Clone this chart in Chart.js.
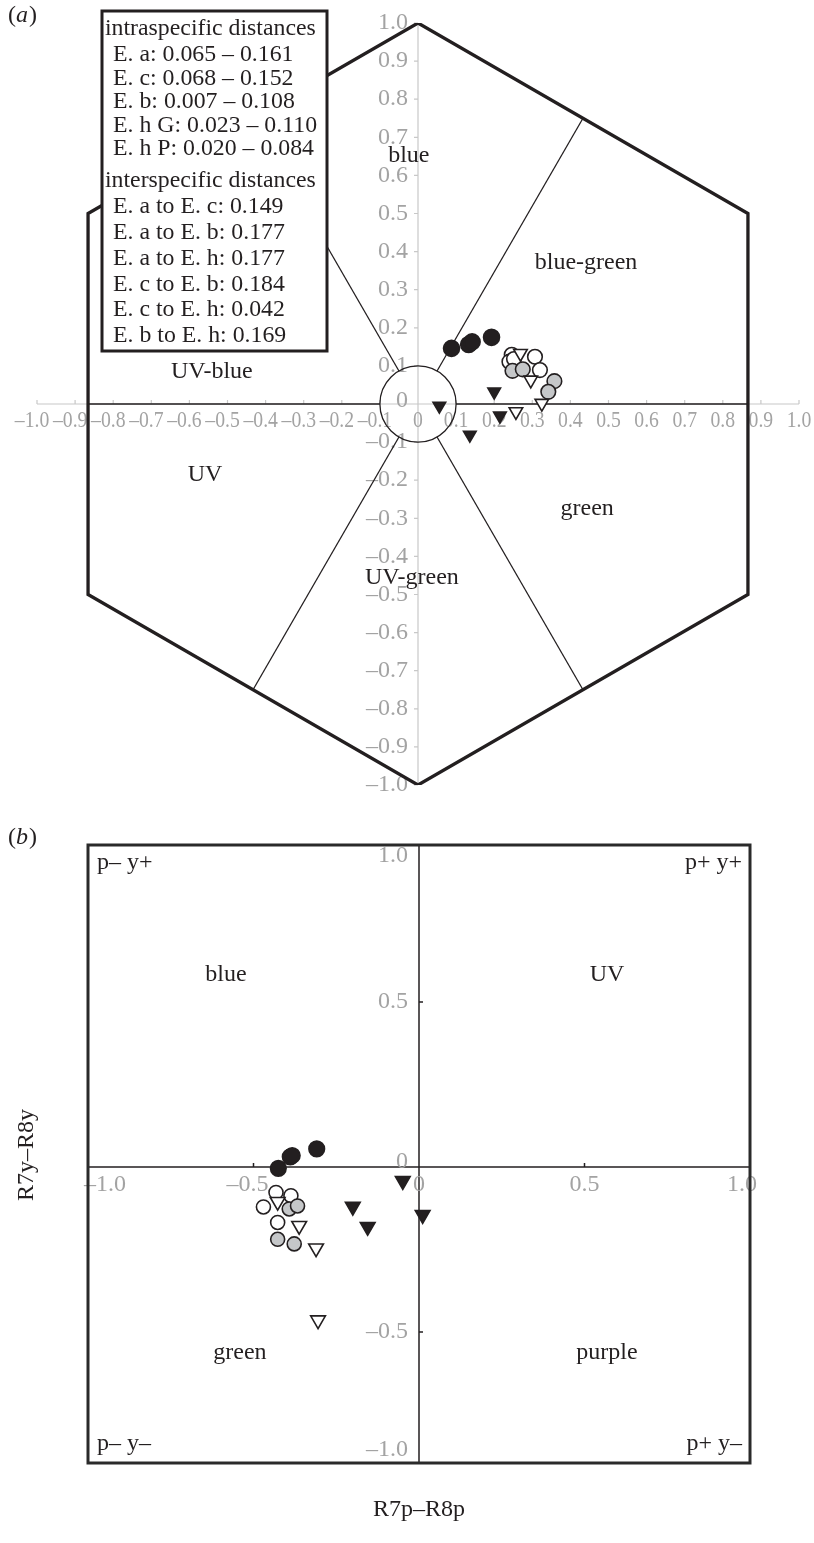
<!DOCTYPE html>
<html>
<head>
<meta charset="utf-8">
<script src="https://cdn.jsdelivr.net/npm/chart.js@4.4.0/dist/chart.umd.min.js"></script>
<style>
  html, body { margin: 0; padding: 0; background: #fff; }
  #wrap { position: relative; width: 814px; height: 1543px; }
  canvas { position: absolute; left: 0; }
  #hexChart { top: 0; }
  #oppChart { top: 805px; }
</style>
</head>
<body>
<div id="wrap">
  <canvas id="hexChart" width="814" height="805"></canvas>
  <canvas id="oppChart" width="814" height="738"></canvas>
</div>
<script>
// ---------- (a) colour hexagon ----------
const hexX = [0, 0.866, 0.866, 0, -0.866, -0.866, 0];
const hexY = [1, 0.5, -0.5, -1, -0.5, 0.5, 1];
const spokeInX = [0.1, 0.05, -0.05, -0.1, -0.05, 0.05];
const spokeInY = [0, 0.0866, 0.0866, 0, -0.0866, -0.0866];
const spokeOutX = [0.866, 0.433, -0.433, -0.866, -0.433, 0.433];
const spokeOutY = [0, 0.75, 0.75, 0, -0.75, -0.75];
const circleR = 0.1;

const xTicksA = [-1.0, -0.9, -0.8, -0.7, -0.6, -0.5, -0.4, -0.3, -0.2, -0.1, 0, 0.1, 0.2, 0.3, 0.4, 0.5, 0.6, 0.7, 0.8, 0.9, 1.0];
const yTicksA = [1.0, 0.9, 0.8, 0.7, 0.6, 0.5, 0.4, 0.3, 0.2, 0.1, 0, -0.1, -0.2, -0.3, -0.4, -0.5, -0.6, -0.7, -0.8, -0.9, -1.0];

const regionsA = ["blue", "blue-green", "green", "UV-green", "UV", "UV-blue"];
const regionAtX = [-0.024, 0.441, 0.444, -0.016, -0.559, -0.541];
const regionAtY = [0.651, 0.370, -0.276, -0.457, -0.186, 0.084];

const intraTitle = "intraspecific distances";
const intraLines = ["E. a: 0.065 \u2013 0.161", "E. c: 0.068 \u2013 0.152", "E. b: 0.007 \u2013 0.108", "E. h G: 0.023 \u2013 0.110", "E. h P: 0.020 \u2013 0.084"];
const interTitle = "interspecific distances";
const interLines = ["E. a to E. c: 0.149", "E. a to E. b: 0.177", "E. a to E. h: 0.177", "E. c to E. b: 0.184", "E. c to E. h: 0.042", "E. b to E. h: 0.169"];

const blackCircAx = [0.088, 0.133, 0.142, 0.193];
const blackCircAy = [0.146, 0.156, 0.163, 0.175];
const openCircAx = [0.246, 0.240, 0.252, 0.307, 0.320];
const openCircAy = [0.129, 0.111, 0.118, 0.124, 0.089];
const grayCircAx = [0.248, 0.275, 0.358, 0.342];
const grayCircAy = [0.087, 0.091, 0.060, 0.032];
const openTriAx = [0.269, 0.296, 0.325, 0.257];
const openTriAy = [0.133, 0.063, 0.002, -0.020];
const blackTriAx = [0.056, 0.200, 0.215, 0.136];
const blackTriAy = [-0.005, 0.032, -0.031, -0.081];

// ---------- (b) colour opponent space ----------
const xTicksB = [-1.0, -0.5, 0, 0.5, 1.0];
const yTicksB = [1.0, 0.5, 0, -0.5, -1.0];
const cornersB = ["p\u2013 y+", "p+ y+", "p\u2013 y\u2013", "p+ y\u2013"];
const regionsB = ["blue", "UV", "green", "purple"];
const regionBtX = [-0.583, 0.568, -0.541, 0.568];
const regionBtY = [0.582, 0.582, -0.564, -0.564];
const xTitleB = "R7p\u2013R8p";
const yTitleB = "R7y\u2013R8y";

const blackCircBx = [-0.425, -0.389, -0.383, -0.309];
const blackCircBy = [-0.004, 0.031, 0.035, 0.055];
const openCircBx = [-0.432, -0.387, -0.470, -0.427];
const openCircBy = [-0.077, -0.087, -0.121, -0.168];
const grayCircBx = [-0.392, -0.367, -0.427, -0.377];
const grayCircBy = [-0.127, -0.118, -0.219, -0.233];
const openTriBx = [-0.427, -0.362, -0.311, -0.305];
const openTriBy = [-0.105, -0.178, -0.246, -0.464];
const blackTriBx = [-0.049, -0.200, -0.155, 0.011];
const blackTriBy = [-0.042, -0.120, -0.181, -0.145];

const SERIF = '"Liberation Serif", "Times New Roman", serif';
const INK = "#231f20";
const GRAY = "#a3a3a3";
const FONT = `24px ${SERIF}`;

function pts(xs, ys) {
  return xs.map((v, i) => ({ x: v, y: ys[i] }));
}

function fmt(v) {
  if (v === 0) return "0";
  return (v < 0 ? "\u2013" : "") + Math.abs(v).toFixed(1);
}

// number part centred on the tick, the dash hangs to the left
function drawXLabel(ctx, text, px, py, squeeze, minLeft, maxRight) {
  const num = text.replace("\u2013", "");
  const half = ctx.measureText(num).width * squeeze / 2;
  const full = ctx.measureText(text).width * squeeze;
  let right = px + half;
  if (minLeft !== undefined && right - full < minLeft) right = minLeft + full;
  if (maxRight !== undefined && right > maxRight) right = maxRight;
  ctx.save();
  ctx.translate(right, py);
  ctx.scale(squeeze, 1);
  ctx.textAlign = "right";
  ctx.fillText(text, 0, 0);
  ctx.restore();
}

function panelTag(ctx, letter, x, y) {
  ctx.save();
  ctx.fillStyle = INK;
  ctx.textBaseline = "middle";
  ctx.textAlign = "left";
  ctx.font = FONT;
  ctx.fillText("(", x, y);
  let cx = x + ctx.measureText("(").width;
  ctx.font = `italic 24px ${SERIF}`;
  ctx.fillText(letter, cx, y);
  cx += ctx.measureText(letter).width + 1;
  ctx.font = FONT;
  ctx.fillText(")", cx, y);
  ctx.restore();
}

function markers(xs, ys, style, fill, radius, order) {
  return {
    data: pts(xs, ys),
    pointStyle: style,
    pointRotation: style === "triangle" ? 180 : 0,
    pointRadius: radius,
    pointBackgroundColor: fill,
    pointBorderColor: INK,
    pointBorderWidth: 1.6,
    order
  };
}

function segment(x1, y1, x2, y2, width) {
  return {
    data: [{ x: x1, y: y1 }, { x: x2, y: y2 }],
    showLine: true,
    borderColor: INK,
    borderWidth: width,
    pointRadius: 0,
    order: 20
  };
}

const hexAxes = {
  id: "hexAxes",
  beforeDatasetsDraw(chart) {
    const { ctx, scales: { x, y } } = chart;
    const x0 = x.getPixelForValue(0);
    const y0 = y.getPixelForValue(0);
    ctx.save();
    ctx.strokeStyle = "#c8c8c8";
    ctx.lineWidth = 1.2;
    ctx.beginPath();
    ctx.moveTo(x.getPixelForValue(-1), y0);
    ctx.lineTo(x.getPixelForValue(1), y0);
    ctx.moveTo(x0, y.getPixelForValue(1));
    ctx.lineTo(x0, y.getPixelForValue(-1));
    xTicksA.forEach(v => {
      const px = x.getPixelForValue(v);
      ctx.moveTo(px, y0);
      ctx.lineTo(px, y0 - 4);
    });
    yTicksA.forEach(v => {
      const py = y.getPixelForValue(v);
      ctx.moveTo(x0, py);
      ctx.lineTo(x0 - 4, py);
    });
    ctx.stroke();

    ctx.fillStyle = GRAY;
    ctx.font = FONT;
    ctx.textBaseline = "middle";
    xTicksA.forEach(v => drawXLabel(ctx, fmt(v), x.getPixelForValue(v), y0 + 17, 0.82));
    ctx.textAlign = "right";
    yTicksA.forEach(v => {
      ctx.fillText(fmt(v), x0 - 10, y.getPixelForValue(v) + (v === 0 ? -3 : 0));
    });
    ctx.restore();
  },
  afterDatasetsDraw(chart) {
    const { ctx, scales: { x, y } } = chart;
    ctx.save();
    ctx.fillStyle = INK;
    ctx.font = FONT;
    ctx.textAlign = "center";
    ctx.textBaseline = "middle";
    regionsA.forEach((name, i) => {
      ctx.fillText(name, x.getPixelForValue(regionAtX[i]), y.getPixelForValue(regionAtY[i]));
    });
    ctx.restore();
  },
  afterDraw(chart) {
    const { ctx } = chart;
    ctx.save();
    ctx.fillStyle = "#fff";
    ctx.fillRect(102, 11, 225, 340);
    ctx.lineWidth = 3;
    ctx.strokeStyle = INK;
    ctx.strokeRect(102, 11, 225, 340);

    ctx.fillStyle = INK;
    ctx.font = `23.8px ${SERIF}`;
    ctx.textAlign = "left";
    ctx.textBaseline = "middle";
    ctx.fillText(intraTitle, 105, 29);
    intraLines.forEach((t, i) => ctx.fillText(t, 113, 55 + i * 23.5));
    ctx.fillText(interTitle, 105, 181);
    interLines.forEach((t, i) => ctx.fillText(t, 113, 207 + i * 25.8));
    ctx.restore();

    panelTag(ctx, "a", 8, 16);
  }
};

const oppAxes = {
  id: "oppAxes",
  beforeDatasetsDraw(chart) {
    const { ctx, chartArea: a, scales: { x, y } } = chart;
    const x0 = x.getPixelForValue(0);
    const y0 = y.getPixelForValue(0);
    ctx.save();
    ctx.strokeStyle = INK;
    ctx.lineWidth = 1.5;
    ctx.beginPath();
    ctx.moveTo(a.left, y0);
    ctx.lineTo(a.right, y0);
    ctx.moveTo(x0, a.top);
    ctx.lineTo(x0, a.bottom);
    [-0.5, 0.5].forEach(v => {
      const px = x.getPixelForValue(v);
      ctx.moveTo(px, y0);
      ctx.lineTo(px, y0 - 4);
      const py = y.getPixelForValue(v);
      ctx.moveTo(x0, py);
      ctx.lineTo(x0 + 4, py);
    });
    ctx.stroke();

    ctx.fillStyle = GRAY;
    ctx.font = FONT;
    ctx.textBaseline = "middle";
    xTicksB.forEach(v => drawXLabel(ctx, fmt(v), x.getPixelForValue(v), y0 + 18, 1, a.left - 4, a.right + 7));
    ctx.textAlign = "right";
    yTicksB.forEach(v => {
      let py = y.getPixelForValue(v);
      if (v === 0) py -= 5;
      py = Math.min(Math.max(py, a.top + 11), a.bottom - 13);
      ctx.fillText(fmt(v), x0 - 11, py);
    });
    ctx.restore();
  },
  afterDatasetsDraw(chart) {
    const { ctx, chartArea: a, scales: { x, y } } = chart;
    ctx.save();
    ctx.lineWidth = 3;
    ctx.strokeStyle = "#2a2a2a";
    ctx.strokeRect(a.left, a.top, a.right - a.left, a.bottom - a.top);

    ctx.fillStyle = INK;
    ctx.font = FONT;
    ctx.textBaseline = "middle";
    ctx.textAlign = "left";
    ctx.fillText(cornersB[0], a.left + 9, a.top + 18);
    ctx.fillText(cornersB[2], a.left + 9, a.bottom - 19);
    ctx.textAlign = "right";
    ctx.fillText(cornersB[1], a.right - 8, a.top + 18);
    ctx.fillText(cornersB[3], a.right - 8, a.bottom - 19);

    ctx.textAlign = "center";
    regionsB.forEach((name, i) => {
      ctx.fillText(name, x.getPixelForValue(regionBtX[i]), y.getPixelForValue(regionBtY[i]));
    });

    ctx.fillText(xTitleB, (a.left + a.right) / 2, a.bottom + 47);
    ctx.translate(27, 350);
    ctx.rotate(-Math.PI / 2);
    ctx.fillText(yTitleB, 0, 0);
    ctx.restore();

    panelTag(ctx, "b", 8, 33);
  }
};

const baseOptions = (padding, xr, yr) => ({
  responsive: false,
  animation: false,
  events: [],
  layout: { padding },
  scales: {
    x: { type: "linear", min: xr[0], max: xr[1], display: false },
    y: { type: "linear", min: yr[0], max: yr[1], display: false }
  },
  plugins: { legend: { display: false }, tooltip: { enabled: false } }
});

const hexDatasets = [
  {
    data: pts(hexX, hexY),
    showLine: true,
    borderColor: INK,
    borderWidth: 3.3,
    borderJoinStyle: "miter",
    pointRadius: 0,
    order: 30
  },
  ...spokeInX.map((v, i) => segment(v, spokeInY[i], spokeOutX[i], spokeOutY[i], 1.3)),
  {
    data: [{ x: 0, y: 0 }],
    pointStyle: "circle",
    pointRadius: c => {
      const s = c.chart.scales.x;
      return s.getPixelForValue(circleR) - s.getPixelForValue(0);
    },
    pointBackgroundColor: "rgba(0,0,0,0)",
    pointBorderColor: INK,
    pointBorderWidth: 1.3,
    order: 25
  },
  markers(openCircAx, openCircAy, "circle", "#fff", 7.3, 6),
  markers(grayCircAx, grayCircAy, "circle", "#c5c7c9", 7.3, 5),
  markers(openTriAx, openTriAy, "triangle", "#fff", 7.8, 4),
  markers(blackTriAx, blackTriAy, "triangle", INK, 7.3, 3),
  markers(blackCircAx, blackCircAy, "circle", INK, 8, 2)
];

new Chart(document.getElementById("hexChart"), {
  type: "scatter",
  data: { datasets: hexDatasets },
  options: baseOptions({ left: 37, right: 15, top: 23, bottom: 20 }, [-1, 1], [-1, 1]),
  plugins: [hexAxes]
});

const oppDatasets = [
  markers(openCircBx, openCircBy, "circle", "#fff", 7, 6),
  markers(grayCircBx, grayCircBy, "circle", "#c5c7c9", 7, 5),
  markers(openTriBx, openTriBy, "triangle", "#fff", 8.5, 4),
  markers(blackTriBx, blackTriBy, "triangle", INK, 8.5, 3),
  markers(blackCircBx, blackCircBy, "circle", INK, 7.8, 2)
];

new Chart(document.getElementById("oppChart"), {
  type: "scatter",
  data: { datasets: oppDatasets },
  options: baseOptions({ left: 88, right: 64, top: 40, bottom: 80 }, [-1, 1], [-0.897, 0.976]),
  plugins: [oppAxes]
});
</script>
</body>
</html>
